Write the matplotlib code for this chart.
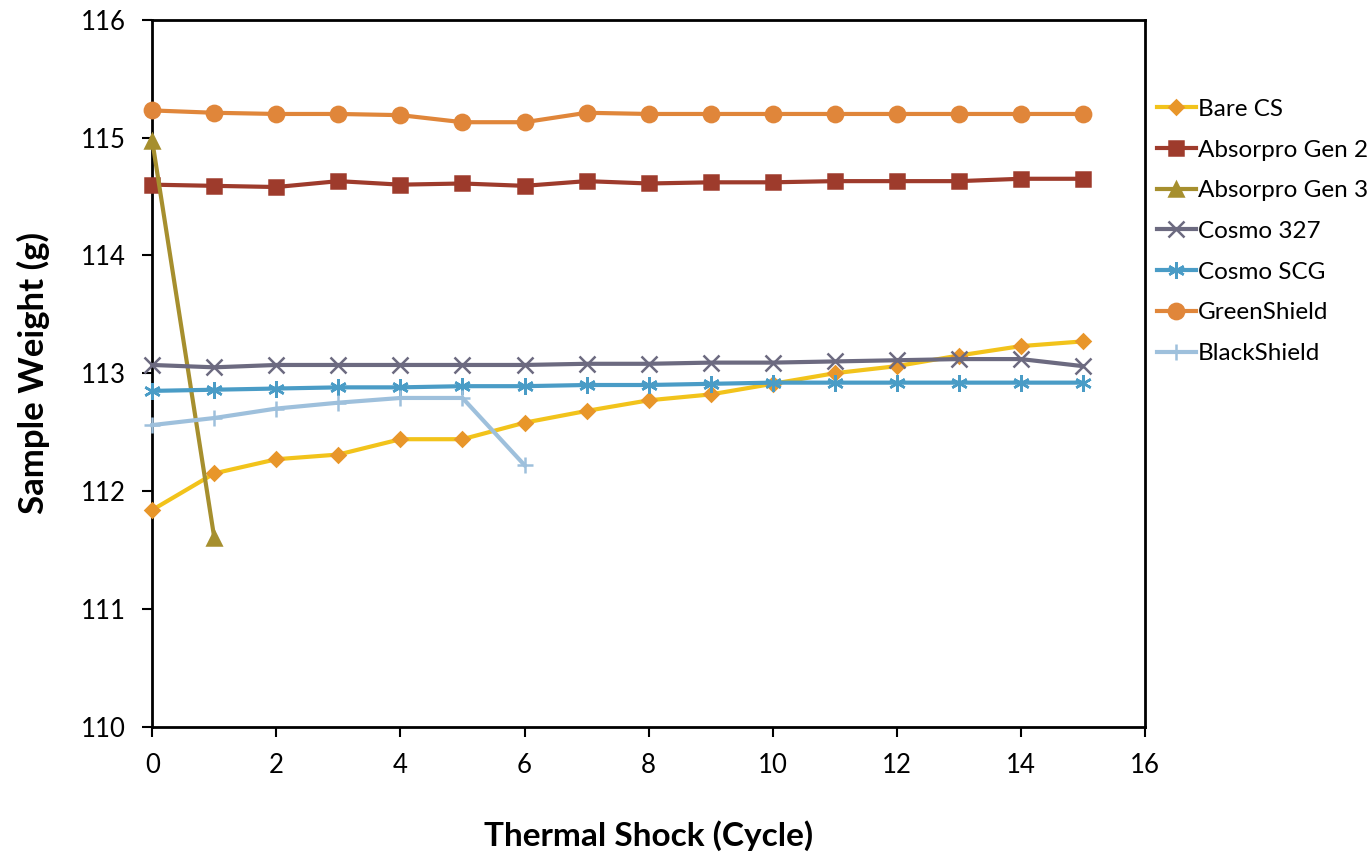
import matplotlib
matplotlib.use("Agg")
import matplotlib.pyplot as plt

plt.rcParams["font.family"] = ["Lato", "DejaVu Sans"]

cycles = list(range(16))

bare_cs = [111.84, 112.15, 112.27, 112.31, 112.44, 112.44, 112.58, 112.68,
           112.77, 112.82, 112.91, 113.00, 113.06, 113.15, 113.23, 113.27]
absorpro_gen2 = [114.60, 114.59, 114.58, 114.63, 114.60, 114.61, 114.59, 114.63,
                 114.61, 114.62, 114.62, 114.63, 114.63, 114.63, 114.65, 114.65]
absorpro_gen3 = [114.97, 111.60]
cosmo_327 = [113.07, 113.05, 113.07, 113.07, 113.07, 113.07, 113.07, 113.08,
             113.08, 113.09, 113.09, 113.10, 113.11, 113.12, 113.12, 113.06]
cosmo_scg = [112.85, 112.86, 112.87, 112.88, 112.88, 112.89, 112.89, 112.90,
             112.90, 112.91, 112.92, 112.92, 112.92, 112.92, 112.92, 112.92]
greenshield = [115.23, 115.21, 115.20, 115.20, 115.19, 115.13, 115.13, 115.21,
               115.20, 115.20, 115.20, 115.20, 115.20, 115.20, 115.20, 115.20]
blackshield = [112.56, 112.62, 112.70, 112.75, 112.79, 112.79, 112.22]

series = [
    ("Bare CS", bare_cs, "#F2C31B", "D", "#E8962A", 7),
    ("Absorpro Gen 2", absorpro_gen2, "#9E3B2C", "s", "#9E3B2C", 10),
    ("Absorpro Gen 3", absorpro_gen3, "#A68F2E", "^", "#A68F2E", 10),
    ("Cosmo 327", cosmo_327, "#6C6A80", "x", "#6C6A80", 11),
    ("Cosmo SCG", cosmo_scg, "#4A9CC6", (6, 2, 0), "#4A9CC6", 12),
    ("GreenShield", greenshield, "#E0863A", "o", "#E0863A", 11),
    ("BlackShield", blackshield, "#9EC0DC", "+", "#9EC0DC", 11),
]

fig = plt.figure(figsize=(13.72, 8.56), dpi=100)
ax = fig.add_axes([0.111, 0.151, 0.7235, 0.826])

for name, vals, color, marker, mcolor, ms in series:
    ax.plot(cycles[:len(vals)], vals, color=color, lw=3, marker=marker,
            markersize=ms, markerfacecolor=mcolor, markeredgecolor=mcolor,
            markeredgewidth=1.8, label=name, clip_on=False, zorder=3)

ax.set_xlim(0, 16)
ax.set_ylim(110, 116)
ax.set_xticks(range(0, 17, 2))
ax.set_yticks(range(110, 117))
ax.tick_params(direction="out", length=7, width=1.5, labelsize=18.5, pad=12)
for s in ax.spines.values():
    s.set_linewidth(2)

ax.set_xlabel("Thermal Shock (Cycle)", fontsize=24, fontweight="bold", labelpad=30)
ax.set_ylabel("Sample Weight (g)", fontsize=25, fontweight="bold", labelpad=22)

ax.legend(loc="upper left", bbox_to_anchor=(1.012, 0.888), frameon=False,
          fontsize=17.5, handlelength=1.6, handletextpad=0.1, labelspacing=0.81,
          borderaxespad=0, borderpad=0)

fig.savefig("out.png", dpi=100)
